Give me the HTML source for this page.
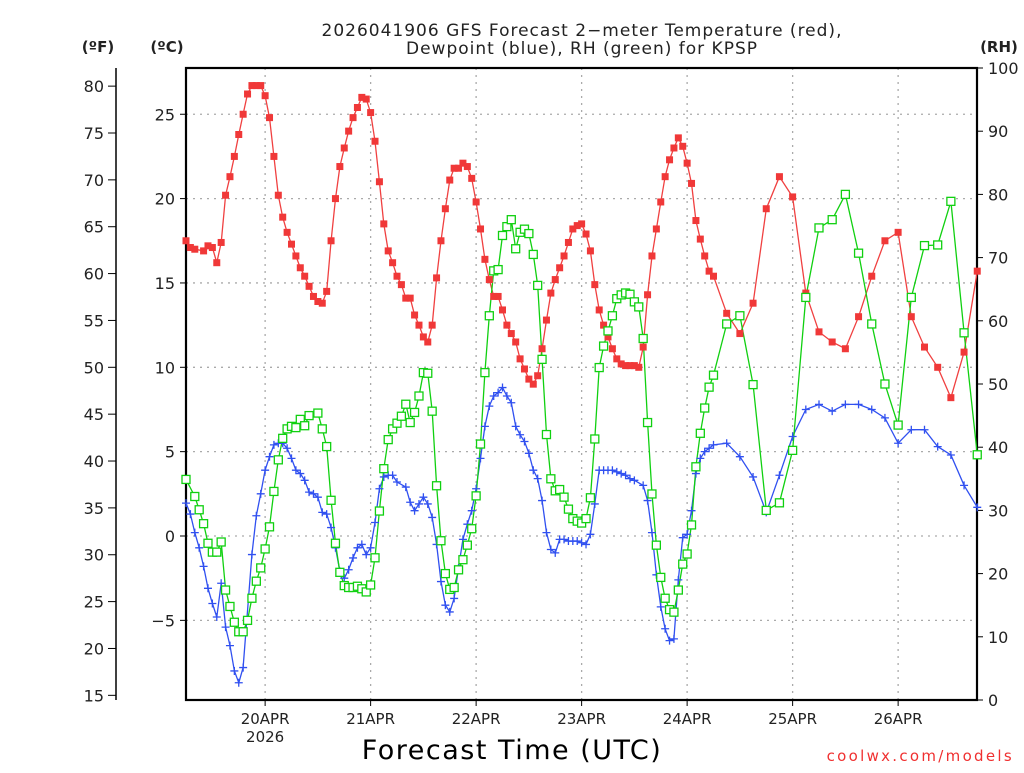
<!DOCTYPE html>
<html><head><meta charset="utf-8"><style>
body{margin:0;background:#fff;}
svg text{font-family:"DejaVu Sans","Liberation Sans",sans-serif;fill:#222;}
</style></head><body>
<svg id="chart" width="1024" height="768" viewBox="0 0 1024 768" xmlns="http://www.w3.org/2000/svg">
<rect width="1024" height="768" fill="#fff"/>
<g id="grid"></g>
<g id="axes"></g>
<g id="series"></g>
<text x="582" y="36" text-anchor="middle" font-size="17" letter-spacing="1">2026041906 GFS Forecast 2−meter Temperature (red),</text>
<text x="582" y="54" text-anchor="middle" font-size="17" letter-spacing="1">Dewpoint (blue), RH (green) for KPSP</text>
<text x="98" y="52" text-anchor="middle" font-size="15" font-weight="bold">(ºF)</text>
<text x="167" y="52" text-anchor="middle" font-size="15" font-weight="bold">(ºC)</text>
<text x="999" y="52" text-anchor="middle" font-size="15" font-weight="bold">(RH)</text>
<text x="512" y="759" text-anchor="middle" font-size="27" letter-spacing="1.5" style="fill:#000">Forecast Time (UTC)</text>
<text x="1014" y="761" text-anchor="end" font-size="15" letter-spacing="2.3" style="fill:#f03030">coolwx.com/models</text>
</svg>
<script>
const dayLabels = ["20APR","21APR","22APR","23APR","24APR","25APR","26APR"];
const celsiusTicks = [-5,0,5,10,15,20,25];
const fahrenheitTicks = [15,20,25,30,35,40,45,50,55,60,65,70,75,80];
const rhTicks = [0,10,20,30,40,50,60,70,80,90,100];
// forecast hour from 2026-04-19 06Z
const tempHours = [0,1,2,4,5,6,7,8,9,10,11,12,13,14,15,16,17,18,19,20,21,22,23,24,25,26,27,28,29,30,31,32,33,34,35,36,37,38,39,40,41,42,43,44,45,46,47,48,49,50,51,52,53,54,55,56,57,58,59,60,61,62,63,64,65,66,67,68,69,70,71,72,73,74,75,76,77,78,79,80,81,82,83,84,85,86,87,88,89,90,91,92,93,94,95,96,97,98,99,100,101,102,103,104,105,106,107,108,109,110,111,112,113,114,115,116,117,118,119,120,123,126,129,132,135,138,141,144,147,150,153,156,159,162,165,168,171,174,177,180];
const tempC = [17.5,17.1,17.0,16.9,17.2,17.1,16.2,17.4,20.2,21.3,22.5,23.8,25.0,26.2,26.7,26.7,26.7,26.1,24.8,22.5,20.2,18.9,18.0,17.3,16.6,15.9,15.4,14.8,14.2,13.9,13.8,14.5,17.5,20.0,21.9,23.0,24.0,24.8,25.4,26.0,25.9,25.1,23.4,21.0,18.5,16.9,16.2,15.4,14.9,14.1,14.1,13.1,12.5,11.8,11.5,12.5,15.3,17.5,19.4,21.1,21.8,21.8,22.1,21.9,21.2,19.8,18.2,16.4,15.2,14.2,14.2,13.4,12.5,12.0,11.5,10.5,9.9,9.3,9.0,9.5,11.1,12.8,14.4,15.2,15.9,16.6,17.4,18.2,18.4,18.5,17.9,16.9,14.9,13.4,12.5,11.8,11.1,10.5,10.2,10.1,10.1,10.1,10.0,11.2,14.3,16.6,18.2,19.8,21.3,22.3,23.0,23.6,23.1,22.1,20.9,18.7,17.6,16.6,15.7,15.4,13.2,12.0,13.8,19.4,21.3,20.1,14.4,12.1,11.5,11.1,13.0,15.4,17.5,18.0,13.0,11.2,10.0,8.2,10.9,15.7];
const dewHours = [0,1,2,3,4,5,6,7,8,9,10,11,12,13,15,16,17,18,19,20,21,22,23,24,25,26,27,28,29,30,31,32,33,34,35,36,37,38,39,40,41,42,43,44,45,46,47,48,50,51,52,53,54,55,56,57,58,59,60,61,62,63,64,65,66,67,68,69,70,71,72,73,74,75,76,77,78,79,80,81,82,83,84,85,86,87,88,89,90,91,92,93,94,95,96,97,98,99,100,101,102,104,105,106,107,108,109,110,111,112,113,114,115,116,117,118,119,120,123,126,129,132,135,138,141,144,147,150,153,156,159,162,165,168,171,174,177,180];
const dewC = [1.95,1.3,0.2,-0.7,-1.8,-3.1,-4.0,-4.8,-2.8,-5.4,-6.5,-8.0,-8.7,-7.8,-1.1,1.2,2.5,3.9,4.7,5.4,5.5,5.5,5.2,4.6,3.9,3.7,3.3,2.6,2.5,2.3,1.4,1.3,0.5,-0.7,-2.1,-2.5,-2.0,-1.3,-0.7,-0.5,-1.1,-0.7,0.8,2.8,3.5,3.6,3.6,3.2,2.9,2.0,1.5,1.9,2.3,1.9,1.1,-0.5,-2.7,-4.1,-4.5,-3.7,-1.9,-0.2,0.7,1.5,2.8,4.6,6.5,7.7,8.3,8.5,8.8,8.3,7.9,6.5,6.0,5.6,4.9,3.9,3.4,2.1,0.2,-0.8,-1.0,-0.2,-0.2,-0.3,-0.3,-0.3,-0.4,-0.5,0.1,1.9,3.9,3.9,3.9,3.9,3.8,3.7,3.6,3.4,3.3,3.0,2.1,0.2,-2.3,-4.2,-5.5,-6.2,-6.1,-2.6,-0.1,0.1,1.5,3.7,4.6,5.0,5.2,5.4,5.5,4.7,3.5,1.4,3.6,5.9,7.5,7.8,7.4,7.8,7.8,7.5,7.0,5.5,6.3,6.3,5.3,4.8,3.0,1.7];
const rhHours = [0,2,3,4,5,6,7,8,9,10,11,12,13,14,15,16,17,18,19,20,21,22,23,24,25,26,27,28,30,31,32,33,34,35,36,37,38,39,40,41,42,43,44,45,46,47,48,49,50,51,52,53,54,55,56,57,58,59,60,61,62,63,64,65,66,67,68,69,70,71,72,73,74,75,76,77,78,79,80,81,82,83,84,85,86,87,88,89,90,91,92,93,94,95,96,97,98,99,100,101,102,103,104,105,106,107,108,109,110,111,112,113,114,115,116,117,118,119,120,123,126,129,132,135,138,141,144,147,150,153,156,159,162,165,168,171,174,177,180];
const rhVals = [34.9,32.2,30.1,27.9,24.8,23.4,23.4,25.0,17.4,14.8,12.3,10.8,10.8,12.6,16.1,18.8,20.9,23.9,27.4,33.0,38.0,41.4,42.9,43.3,43.1,44.4,43.4,45.0,45.4,42.9,40.1,31.6,24.8,20.2,18.1,17.8,17.8,18.0,17.6,17.1,18.2,22.5,29.9,36.6,41.2,42.9,43.8,44.9,46.8,43.9,45.5,48.1,51.8,51.7,45.7,33.9,25.2,20.0,17.5,17.8,20.6,22.2,24.5,27.1,32.3,40.5,51.8,60.8,67.9,68.1,73.5,74.9,76.0,71.4,74.0,74.5,73.8,70.5,65.6,53.9,42.0,35.0,33.1,33.3,32.1,30.2,28.7,28.3,28.0,28.7,32.0,41.3,52.6,56.0,58.4,60.8,63.5,64.1,64.4,64.2,63.0,62.2,57.2,43.9,32.6,24.5,19.4,16.1,14.3,13.9,17.4,21.5,23.1,27.7,36.9,42.2,46.2,49.5,51.4,59.5,60.8,49.9,30.0,31.2,39.5,63.7,74.7,76.0,80.0,70.7,59.5,50.0,43.5,63.7,71.9,72.0,78.9,58.1,38.8];

const NS='http://www.w3.org/2000/svg';
const L=186,R=977,T=68,B=700;
const xH=h=>L+h*(105.5/24);
const yC=c=>536-c*16.87;
const yF=f=>yC((f-32)*5/9);
const yRH=v=>B-v*(B-T)/100;
function mk(tag,attrs,parent){const e=document.createElementNS(NS,tag);for(const k in attrs)e.setAttribute(k,attrs[k]);parent.appendChild(e);return e;}
const grid=document.getElementById('grid'),axes=document.getElementById('axes'),ser=document.getElementById('series');

celsiusTicks.forEach(c=>{const l=mk('line',{x1:L,x2:R,y1:yC(c),y2:yC(c),stroke:'#aaa','stroke-width':1.3,'stroke-dasharray':'2,5'},grid);

});
dayLabels.forEach((d,i)=>{const x=xH(18+24*i);const l=mk('line',{x1:x,x2:x,y1:T,y2:B,stroke:'#aaa','stroke-width':1.3,'stroke-dasharray':'2,5'},grid);


const tk=mk('line',{x1:x,x2:x,y1:B,y2:B+6,stroke:'#000','stroke-width':1},axes);


const t=mk('text',{x:x,y:724,'text-anchor':'middle','font-size':15},axes);t.textContent=d;

});
const yr=mk('text',{x:xH(18),y:742,'text-anchor':'middle','font-size':15},axes);yr.textContent='2026';



const fr=mk('rect',{x:L,y:T,width:R-L,height:B-T,fill:'none',stroke:'#000','stroke-width':2.2},axes);


const fa=mk('line',{x1:116,x2:116,y1:T,y2:B,stroke:'#000','stroke-width':1.5},axes);


fahrenheitTicks.forEach(f=>{mk('line',{x1:108,x2:116,y1:yF(f),y2:yF(f),stroke:'#000','stroke-width':1},axes);
const t=mk('text',{x:104,y:yF(f)+6,'text-anchor':'end','font-size':16},axes);t.textContent=f;

});
celsiusTicks.forEach(c=>{mk('line',{x1:180,x2:L,y1:yC(c),y2:yC(c),stroke:'#000','stroke-width':1},axes);
const t=mk('text',{x:175,y:yC(c)+6,'text-anchor':'end','font-size':16},axes);t.textContent=c<0?'−'+(-c):c;

});
rhTicks.forEach(v=>{mk('line',{x1:R,x2:R+6,y1:yRH(v),y2:yRH(v),stroke:'#000','stroke-width':1},axes);
const t=mk('text',{x:988,y:yRH(v)+6,'text-anchor':'start','font-size':16},axes);t.textContent=v;

});

function line(hs,vs,yf,color,name){const pts=hs.map((h,i)=>xH(h).toFixed(1)+','+yf(vs[i]).toFixed(1)).join(' ');
const p=mk('polyline',{points:pts,fill:'none',stroke:color,'stroke-width':1.3},ser);

}
line(tempHours,tempC,yC,'#f04040','temperature-line');
line(dewHours,dewC,yC,'#3050f0','dewpoint-line');
line(rhHours,rhVals,yRH,'#10d010','rh-line');
tempHours.forEach((h,i)=>{const m=mk('rect',{x:xH(h)-3.5,y:yC(tempC[i])-3.5,width:7,height:7,fill:'#f03838'},ser);

});
dewHours.forEach((h,i)=>{const x=xH(h),y=yC(dewC[i]);const m=mk('path',{d:`M${x-4},${y}H${x+4}M${x},${y-4}V${y+4}`,stroke:'#3050f0','stroke-width':1.3,fill:'none'},ser);

});
rhHours.forEach((h,i)=>{const m=mk('rect',{x:xH(h)-4,y:yRH(rhVals[i])-4,width:8,height:8,fill:'#fff',stroke:'#10d010','stroke-width':1.3},ser);

});
</script>
</body></html>
